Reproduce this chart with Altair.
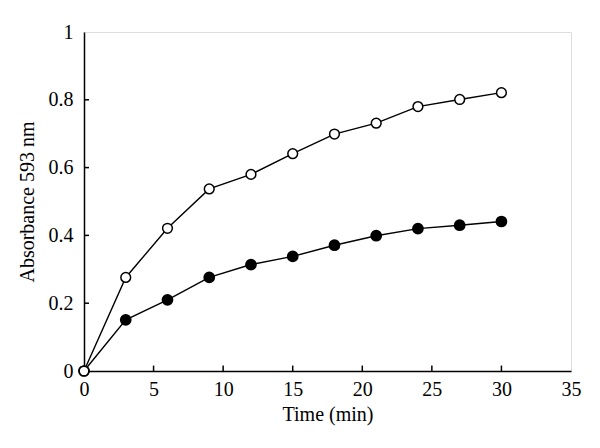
import altair as alt
import pandas as pd

time = [0, 3, 6, 9, 12, 15, 18, 21, 24, 27, 30]
open_vals = [0, 0.276, 0.421, 0.537, 0.580, 0.641, 0.699, 0.731, 0.780, 0.801, 0.821]
filled_vals = [0, 0.151, 0.210, 0.276, 0.314, 0.338, 0.371, 0.399, 0.420, 0.430, 0.441]

x_ticks = [0, 5, 10, 15, 20, 25, 30, 35]
y_ticks = [0, 0.2, 0.4, 0.6, 0.8, 1]
x_inner_ticks = [5, 10, 15, 20, 25, 30]
y_inner_ticks = [0.2, 0.4, 0.6, 0.8]

FONT = "Liberation Serif, Times New Roman, serif"

df_open = pd.DataFrame({"t": time, "a": open_vals})
df_fill = pd.DataFrame({"t": time, "a": filled_vals})

xs = alt.Scale(domain=[0, 35], nice=False, zero=False)
ys = alt.Scale(domain=[0, 1], nice=False, zero=False)

xax = alt.Axis(values=x_ticks, ticks=False, grid=False, domainColor="black", domainWidth=1.5,
               labelFont=FONT, labelFontSize=20, labelColor="black", labelPadding=8,
               labelFlush=False, labelOverlap=False,
               titleFont=FONT, titleFontSize=20, titleFontWeight="normal", titleColor="black",
               titlePadding=5, format="d")
yax = alt.Axis(values=y_ticks, ticks=False, grid=False, domainColor="black", domainWidth=1.5,
               labelFont=FONT, labelFontSize=20, labelColor="black", labelPadding=11,
               labelFlush=False, labelOverlap=False,
               titleFont=FONT, titleFontSize=20, titleFontWeight="normal", titleColor="black",
               titlePadding=11, format=".1~f")

X = alt.X("t:Q", scale=xs, axis=xax, title="Time (min)")
Y = alt.Y("a:Q", scale=ys, axis=yax, title="Absorbance 593 nm")

fill_line = alt.Chart(df_fill).mark_line(color="black", strokeWidth=1.4).encode(x=X, y=Y)
fill_pts = alt.Chart(df_fill).mark_point(shape="circle", filled=True, fill="black", stroke="black",
                                         size=95, opacity=1).encode(x=X, y=Y)
open_line = alt.Chart(df_open).mark_line(color="black", strokeWidth=1.4).encode(x=X, y=Y)
open_pts = alt.Chart(df_open).mark_point(shape="circle", filled=True, fill="white", stroke="black",
                                         strokeWidth=1.5, size=95, opacity=1).encode(x=X, y=Y)

xt = pd.DataFrame({"t": x_inner_ticks, "a0": [0] * len(x_inner_ticks), "a1": [0.016] * len(x_inner_ticks)})
yt = pd.DataFrame({"a": y_inner_ticks, "t0": [0] * len(y_inner_ticks), "t1": [0.36] * len(y_inner_ticks)})

xtick = alt.Chart(xt).mark_rule(color="black", strokeWidth=1.5).encode(
    x=alt.X("t:Q", scale=xs), y=alt.Y("a0:Q", scale=ys), y2="a1:Q")
ytick = alt.Chart(yt).mark_rule(color="black", strokeWidth=1.5).encode(
    y=alt.Y("a:Q", scale=ys), x=alt.X("t0:Q", scale=xs), x2="t1:Q")

chart = alt.layer(xtick, ytick, fill_line, open_line, fill_pts, open_pts).properties(
    width=487, height=339,
    autosize=alt.AutoSizeParams(type="none"),
    padding={"left": 76, "top": 24, "right": 13, "bottom": 61},
).configure_view(stroke="black", strokeWidth=1.5).configure(background="white")

chart.save("out.html", embed_options={"renderer": "svg", "actions": False})
